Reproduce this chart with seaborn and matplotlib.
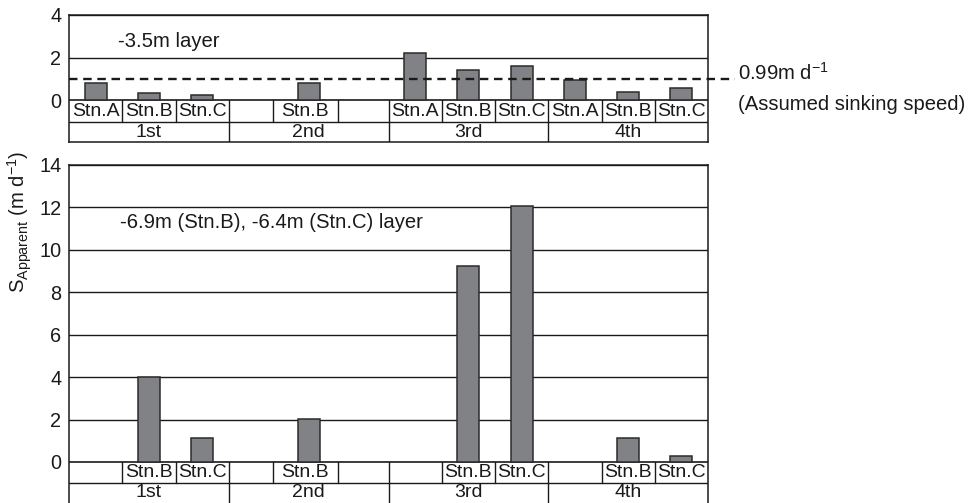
import numpy as np
import pandas as pd
import matplotlib
matplotlib.use("Agg")
import matplotlib.pyplot as plt
import seaborn as sns

# ---- data -------------------------------------------------------------
periods = ["1st", "2nd", "3rd", "4th"]
stations = ["Stn.A", "Stn.B", "Stn.C"]

# -3.5 m layer
upper_period = ["1st", "1st", "1st", "2nd", "3rd", "3rd", "3rd", "4th", "4th", "4th"]
upper_station = ["Stn.A", "Stn.B", "Stn.C", "Stn.B", "Stn.A", "Stn.B", "Stn.C", "Stn.A", "Stn.B", "Stn.C"]
upper_speed = [0.78, 0.32, 0.25, 0.78, 2.22, 1.40, 1.60, 0.95, 0.38, 0.56]

# -6.9 m (Stn.B) / -6.4 m (Stn.C) layer
lower_period = ["1st", "1st", "2nd", "3rd", "3rd", "4th", "4th"]
lower_station = ["Stn.B", "Stn.C", "Stn.B", "Stn.B", "Stn.C", "Stn.B", "Stn.C"]
lower_speed = [4.0, 1.15, 2.05, 9.25, 12.05, 1.15, 0.30]

sinking_speed = 0.99
upper_yticks = [0, 2, 4]
lower_yticks = [0, 2, 4, 6, 8, 10, 12, 14]

# ---- style ------------------------------------------------------------
sns.set_theme(style="white")
plt.rcParams["font.family"] = ["Liberation Sans", "DejaVu Sans"]
plt.rcParams["mathtext.fontset"] = "custom"
plt.rcParams["mathtext.rm"] = "Liberation Sans"
plt.rcParams["mathtext.it"] = "Liberation Sans:italic"
plt.rcParams["mathtext.default"] = "rm"

BAR_FACE = "#818286"
BAR_EDGE = "#2b2b2b"
INK = "#1a1a1a"
FS = 14.3

slots = [f"{p} {s}" for p in periods for s in stations]


def frame(per, sta, val):
    return pd.DataFrame({"slot": [f"{p} {s}" for p, s in zip(per, sta)],
                         "period": per, "station": sta, "speed": val})


def station_cells(pi):
    """Cell edges of the station row for one period, in slot units."""
    if periods[pi] == "2nd":
        return [3.0, 3.83, 5.05, 6.0]
    return [pi * 3 + k for k in range(4)]


def draw_panel(ax, df, ylim, yticks, row_split, show_bottom=True):
    sns.barplot(data=df, x="slot", y="speed", order=slots, color=BAR_FACE,
                width=0.41, edgecolor=BAR_EDGE, linewidth=1.1,
                errorbar=None, saturation=1, ax=ax, zorder=3)
    for p in ax.patches:
        p.set_facecolor(BAR_FACE)
    ax.set_xlim(-0.5, len(slots) - 0.5)
    ax.set_ylim(*ylim)
    ax.set_yticks(yticks)
    ax.set_yticklabels([str(t) for t in yticks], fontsize=FS, color=INK)
    ax.set_xticks([])
    ax.set_xlabel("")
    ax.set_ylabel("")
    ax.tick_params(axis="y", length=0, pad=5.5)
    for t in yticks:
        ax.axhline(t, color=INK, lw=1.2 if t == 0 else 1.0, zorder=1)
    for side in ("left", "right", "top", "bottom"):
        ax.spines[side].set_color(INK)
        ax.spines[side].set_linewidth(1.1)
    ax.spines["bottom"].set_visible(show_bottom)

    # category table under the zero line
    ax.axhline(row_split, color=INK, lw=1.0, zorder=1)
    y0 = ylim[0]
    period_mid = (row_split + y0) / 2
    station_mid = row_split / 2
    for pi, per in enumerate(periods):
        edges = station_cells(pi)
        for e in edges[1:-1]:
            ax.plot([e - 0.5, e - 0.5], [row_split, 0], color=INK, lw=1.0)
        if pi > 0:
            ax.plot([edges[0] - 0.5] * 2, [y0, 0], color=INK, lw=1.0)
        present = set(df.loc[df["period"] == per, "station"])
        for si, st in enumerate(stations):
            if st in present:
                cx = (edges[si] + edges[si + 1]) / 2 - 0.5
                ax.text(cx, station_mid, st, ha="center", va="center",
                        fontsize=FS - 0.3, color=INK)
        ax.text((edges[0] + edges[-1]) / 2 - 0.5, period_mid, per,
                ha="center", va="center", fontsize=FS - 0.3, color=INK)


W, H = 971, 503
fig = plt.figure(figsize=(W / 100, H / 100), dpi=100)

ax_lo_x = 69 / W
ax_w = 639 / W

# upper panel: top at 15 px, table bottom at 142 px
ax1 = fig.add_axes([ax_lo_x, 1 - 142 / H, ax_w, 127 / H])
upper = frame(upper_period, upper_station, upper_speed)
draw_panel(ax1, upper, (-1.976, 4), upper_yticks, -1.035)
ax1.text(0.42, 2.73, "-3.5m layer", fontsize=FS + 0.3, va="center",
         ha="left", color=INK)
ax1.plot([-0.5, 12.0], [sinking_speed, sinking_speed], color=INK, lw=1.7,
         dashes=(3.6, 2.4), clip_on=False, zorder=4)

# lower panel: top at 165 px, runs to bottom edge
ax2 = fig.add_axes([ax_lo_x, 0, ax_w, 338 / H])
lower = frame(lower_period, lower_station, lower_speed)
draw_panel(ax2, lower, (-1.933, 14), lower_yticks, -0.99, show_bottom=False)
ax2.text(0.45, 11.3, "-6.9m (Stn.B), -6.4m (Stn.C) layer", fontsize=FS + 0.3,
         va="center", ha="left", color=INK)

# annotation for the dashed reference line
fig.text(738 / W, 1 - 73 / H, r"0.99m d$^{-1}$", fontsize=FS + 0.3,
         va="center", ha="left", color=INK)
fig.text(738 / W, 1 - 104 / H, "(Assumed sinking speed)", fontsize=FS + 0.3,
         va="center", ha="left", color=INK)

# shared y label
fig.text(20 / W, 1 - 222 / H, r"S$_{\mathrm{Apparent}}$ (m d$^{-1}$)",
         rotation=90, fontsize=FS + 0.3, va="center", ha="center", color=INK)

fig.savefig("out.png", dpi=100, facecolor="white")
